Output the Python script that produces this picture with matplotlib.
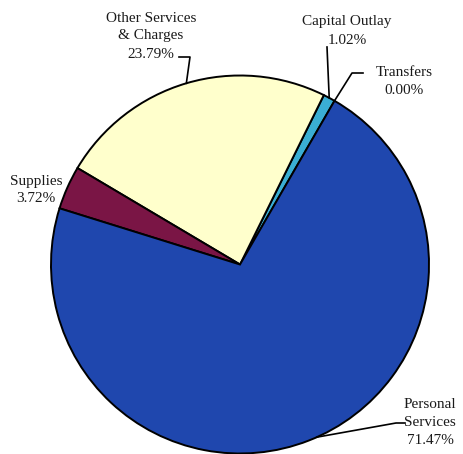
import numpy as np
import matplotlib.pyplot as plt

plt.rcParams['font.family'] = ['Liberation Serif', 'DejaVu Serif']

# budget shares, counterclockwise from the transfers wedge
categories = ["Transfers", "Capital Outlay", "Other Services\n& Charges", "Supplies", "Personal\nServices"]
shares = [0.00, 1.02, 23.79, 3.72, 71.47]
colors = ["#2a9fc8", "#3aaed4", "#ffffcc", "#7a1545", "#1f47ae"]

W, H = 464, 454
fig = plt.figure(figsize=(W / 100, H / 100), dpi=100)
ax = fig.add_axes([0, 0, 1, 1])
ax.set_xlim(0, W)
ax.set_ylim(0, H)
ax.set_aspect('equal')
ax.axis('off')

cx, cy, r = 240, H - 264.5, 189
start = 60.0

wedges, _ = ax.pie(shares, colors=colors, startangle=start, counterclock=True,
                   center=(cx, cy), radius=r, normalize=True,
                   wedgeprops=dict(edgecolor='black', linewidth=1.4))
ax.set_xlim(0, W)
ax.set_ylim(0, H)

# label text positions (pixel coords from top) and elbow points of the leaders
label_pos = {
    "Transfers": (404, 82),
    "Capital Outlay": (347, 31),
    "Other Services\n& Charges": (151, 36),
    "Supplies": (36, 190),
    "Personal\nServices": (430, 423),
}
elbows = {
    "Transfers": [(363, 73), (352, 73)],
    "Capital Outlay": [(327, 47)],
    "Other Services\n& Charges": [(179, 57), (190, 57)],
    "Personal\nServices": [(405, 423), (396, 423)],
}

for name, val, w in zip(categories, shares, wedges):
    tx, ty = label_pos[name]
    ax.text(tx, H - ty, f"{name}\n{val:.2f}%", ha='center', va='center',
            fontsize=11, linespacing=1.5, color='#1a1a1a')
    if name in elbows:
        mid = np.deg2rad((w.theta1 + w.theta2) / 2)
        if name == "Personal\nServices":
            mid = np.deg2rad(294)
        ex, ey = cx + r * np.cos(mid), cy + r * np.sin(mid)
        pts = [(x, H - y) for x, y in elbows[name]] + [(ex, ey)]
        xs, ys = zip(*pts)
        ax.plot(xs, ys, color='black', lw=1.2)

fig.savefig("out.png", dpi=100)
